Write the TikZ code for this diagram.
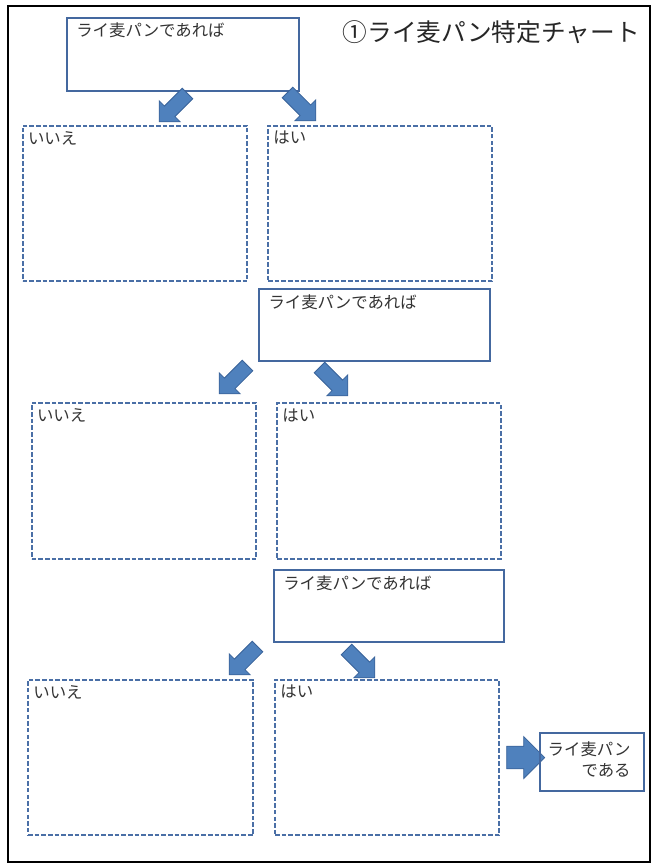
\documentclass[tikz,border=0pt]{standalone}
\usepackage{fontspec}
\setmainfont{Noto Sans CJK JP}
\usetikzlibrary{shapes.arrows}
\definecolor{Boxline}{HTML}{44689F}
\definecolor{Dashline}{HTML}{4A6FA6}
\definecolor{Arrfill}{HTML}{4F81BD}
\definecolor{Arrline}{HTML}{3A639A}

\begin{document}
\begin{tikzpicture}[x=0.75pt, y=-0.75pt,
  %% frage-kasten (durchgezogen)
  question/.style={
    rectangle, draw=Boxline, line width=1.4pt,
    minimum width=173pt, minimum height=54pt, inner sep=0pt
  },
  %% antwort-kasten (gestrichelt)
  answer/.style={
    rectangle, draw=Dashline, line width=1.3pt,
    dash pattern=on 3.4pt off 1.6pt,
    minimum width=168.5pt, minimum height=116.5pt, inner sep=0pt
  },
  boxtext/.style={
    anchor=north west, inner sep=0pt,
    font=\fontsize{12.3pt}{16pt}\selectfont, text=black!80
  },
  %% blockpfeile
  blockarr/.style={
    single arrow, draw=Arrline, fill=Arrfill, line width=0.6pt,
    minimum height=30pt, inner xsep=0pt, inner ysep=5.3pt,
    single arrow head extend=5.5pt, rotate=#1
  }
]

\useasboundingbox (0,0) rectangle (656,866);

%% ── Rahmen und Titel ───────────────────────────────────────────────
\node[draw=black, line width=1.8pt, minimum width=481.5pt,
      minimum height=642pt, inner sep=0pt] (frame) at (329,434) {};
\node[anchor=east, inner sep=0pt, font=\fontsize{18.5pt}{20pt}\selectfont,
      text=black!85] (title) at (640,32) {①ライ麦パン特定チャート};

%% ── Stufe 1 ─────────────────────────────────────────────────────────
\node[question, minimum width=174pt, minimum height=55pt] (q1) at (183,54.5) {};
\node[boxtext] (q1t) at ([shift={(10,6)}]q1.north west) {ライ麦パンであれば};

\node[answer] (no1) at (135,203.5) {};
\node[boxtext] (no1t) at ([shift={(6,6)}]no1.north west) {いいえ};
\node[answer, minimum width=168pt] (yes1) at (380,203.5) {};
\node[boxtext] (yes1t) at ([shift={(6,6)}]yes1.north west) {はい};

\node[blockarr=225] (a1l) at (176,105) {};
\node[blockarr=315] (a1r) at (299,104) {};

%% ── Stufe 2 ─────────────────────────────────────────────────────────
\node[question] (q2) at (374.5,325) {};
\node[boxtext] (q2t) at ([shift={(10,6)}]q2.north west) {ライ麦パンであれば};

\node[answer] (no2) at (144,481) {};
\node[boxtext] (no2t) at ([shift={(6,6)}]no2.north west) {いいえ};
\node[answer, minimum width=168pt] (yes2) at (389,481) {};
\node[boxtext] (yes2t) at ([shift={(6,6)}]yes2.north west) {はい};

\node[blockarr=225] (a2l) at (236,377) {};
\node[blockarr=315] (a2r) at (331,379) {};

%% ── Stufe 3 ─────────────────────────────────────────────────────────
\node[question, minimum width=172.5pt] (q3) at (389,606) {};
\node[boxtext] (q3t) at ([shift={(10,6)}]q3.north west) {ライ麦パンであれば};

\node[answer, minimum width=168.75pt] (no3) at (140.5,757.5) {};
\node[boxtext] (no3t) at ([shift={(6,6)}]no3.north west) {いいえ};
\node[answer, minimum width=168pt] (yes3) at (387,757.5) {};
\node[boxtext] (yes3t) at ([shift={(6,6)}]yes3.north west) {はい};

\node[blockarr=225] (a3l) at (246,658) {};
\node[blockarr=315] (a3r) at (358,661) {};

%% ── Ergebnis ────────────────────────────────────────────────────────
\node[blockarr=0, minimum height=28.5pt, inner ysep=8.2pt,
      single arrow head extend=7.2pt] (a4) at (520,757.5) {};
\node[question, minimum width=78pt, minimum height=43.5pt,
      line width=1.2pt] (res) at (592,762) {};
\node[boxtext, anchor=north east, align=right] (rest)
  at ([shift={(-14,9)}]res.north east) {ライ麦パン\\である};

\end{tikzpicture}
\end{document}
